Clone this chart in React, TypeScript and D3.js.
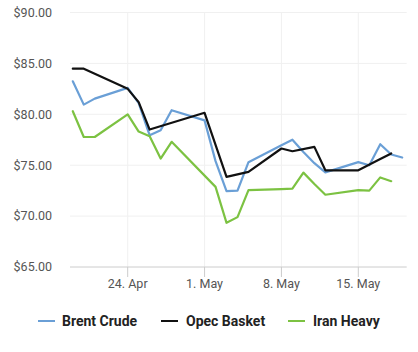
import React from "react";
import * as d3 from "d3";

const W = 418;
const H = 352;

const brentDates = ["2017-04-19","2017-04-20","2017-04-21","2017-04-24","2017-04-25","2017-04-26","2017-04-27","2017-04-28","2017-05-01","2017-05-02","2017-05-03","2017-05-04","2017-05-05","2017-05-08","2017-05-09","2017-05-10","2017-05-11","2017-05-12","2017-05-15","2017-05-16","2017-05-17","2017-05-18","2017-05-19"];
const brentValues = [83.24,80.95,81.54,82.6,81.1,77.94,78.43,80.4,79.4,75.4,72.45,72.5,75.3,76.95,77.5,76.3,75.2,74.3,75.3,75.0,77.06,76.05,75.75];

const opecDates = ["2017-04-19","2017-04-20","2017-04-24","2017-04-25","2017-04-26","2017-05-01","2017-05-03","2017-05-05","2017-05-08","2017-05-09","2017-05-11","2017-05-12","2017-05-15","2017-05-17","2017-05-18"];
const opecValues = [84.48,84.48,82.5,81.2,78.5,80.15,73.85,74.35,76.64,76.37,76.8,74.5,74.5,75.6,76.15];

const iranDates = ["2017-04-19","2017-04-20","2017-04-21","2017-04-24","2017-04-25","2017-04-26","2017-04-27","2017-04-28","2017-05-02","2017-05-03","2017-05-04","2017-05-05","2017-05-08","2017-05-09","2017-05-10","2017-05-11","2017-05-12","2017-05-15","2017-05-16","2017-05-17","2017-05-18"];
const iranValues = [80.3,77.77,77.77,80.0,78.3,77.84,75.65,77.3,72.87,69.34,69.9,72.55,72.65,72.7,74.27,73.15,72.1,72.55,72.5,73.8,73.43];

const yTicks = [65, 70, 75, 80, 85, 90];
const xTickDates = ["2017-04-24", "2017-05-01", "2017-05-08", "2017-05-15"];
const xTickLabels = ["24. Apr", "1. May", "8. May", "15. May"];

const seriesNames = ["Brent Crude", "Opec Basket", "Iran Heavy"];
const seriesColors = ["#6a9fd6", "#111111", "#7cc242"];

const parse = (s: string) => {
  const [y, m, d] = s.split("-").map(Number);
  return new Date(Date.UTC(y, m - 1, d));
};

export default function App() {
  const plotLeft = 70;
  const plotRight = 406.7;
  const x = d3
    .scaleUtc()
    .domain([parse("2017-04-24"), parse("2017-05-15")])
    .range([127.7, 358.3]);
  const y = d3.scaleLinear().domain([65, 90]).range([267, 12.5]);

  const line = d3
    .line<[Date, number]>()
    .x((d) => x(d[0]))
    .y((d) => y(d[1]));

  const series: [Date, number][][] = [
    brentDates.map((d, i) => [parse(d), brentValues[i]]),
    opecDates.map((d, i) => [parse(d), opecValues[i]]),
    iranDates.map((d, i) => [parse(d), iranValues[i]]),
  ];

  const legendItems = [
    { lx: 38, tx: 62 },
    { lx: 161, tx: 186 },
    { lx: 288, tx: 313 },
  ];

  const font = "Roboto, 'Noto Sans', sans-serif";

  return (
    <svg
      width={W}
      height={H}
      style={{ position: "absolute", left: 0, top: 0, background: "#fff" }}
    >
      {yTicks.map((t) => (
        <g key={t}>
          {t !== 65 && (
            <line
              x1={plotLeft}
              x2={plotRight}
              y1={y(t)}
              y2={y(t)}
              stroke="#f0f0f0"
              strokeWidth={1}
            />
          )}
          <text
            x={52}
            y={y(t)}
            dy="0.35em"
            textAnchor="end"
            fontFamily={font}
            fontSize={12.5}
            fill="#555"
          >
            {"$" + t.toFixed(2)}
          </text>
        </g>
      ))}
      {xTickDates.map((d, i) => {
        const xx = x(parse(d));
        return (
          <g key={d}>
            <line x1={xx} x2={xx} y1={12.5} y2={267} stroke="#f0f0f0" />
            <line x1={xx} x2={xx} y1={267} y2={277} stroke="#ccc" />
            <text
              x={xx}
              y={288}
              textAnchor="middle"
              fontFamily={font}
              fontSize={12.5}
              fill="#555"
            >
              {xTickLabels[i]}
            </text>
          </g>
        );
      })}
      <line x1={plotLeft} x2={plotRight} y1={267} y2={267} stroke="#ccc" />
      {series.map((s, i) => (
        <path
          key={i}
          d={line(s) || ""}
          fill="none"
          stroke={seriesColors[i]}
          strokeWidth={2.2}
          strokeLinejoin="round"
          strokeLinecap="round"
        />
      ))}
      {seriesNames.map((n, i) => (
        <g key={n}>
          <line
            x1={legendItems[i].lx}
            x2={legendItems[i].lx + 17}
            y1={321}
            y2={321}
            stroke={seriesColors[i]}
            strokeWidth={2}
          />
          <text
            x={legendItems[i].tx}
            y={321}
            dy="0.35em"
            fontFamily={font}
            fontWeight="bold"
            fontSize={14}
            fill="#222"
          >
            {n}
          </text>
        </g>
      ))}
    </svg>
  );
}
